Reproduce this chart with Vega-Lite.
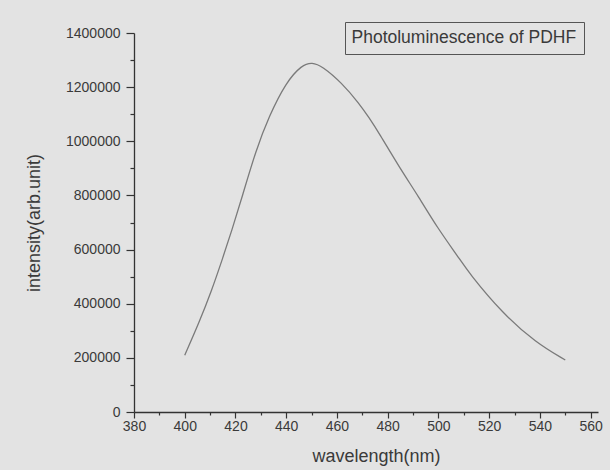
{
  "$schema": "https://vega.github.io/schema/vega-lite/v6.json",
  "width": 464,
  "height": 379,
  "autosize": {"type": "none"},
  "padding": {"left": 134, "top": 33, "right": 12, "bottom": 58},
  "background": "#e3e3e3",
  "data": {
    "values": [
      {"wavelength": 400.0, "intensity": 210000, "series": "Photoluminescence of PDHF"},
      {"wavelength": 405.6, "intensity": 329000, "series": "Photoluminescence of PDHF"},
      {"wavelength": 410.7, "intensity": 451000, "series": "Photoluminescence of PDHF"},
      {"wavelength": 414.7, "intensity": 561000, "series": "Photoluminescence of PDHF"},
      {"wavelength": 418.6, "intensity": 672000, "series": "Photoluminescence of PDHF"},
      {"wavelength": 422.6, "intensity": 794000, "series": "Photoluminescence of PDHF"},
      {"wavelength": 428.1, "intensity": 968000, "series": "Photoluminescence of PDHF"},
      {"wavelength": 433.2, "intensity": 1092000, "series": "Photoluminescence of PDHF"},
      {"wavelength": 439.9, "intensity": 1218000, "series": "Photoluminescence of PDHF"},
      {"wavelength": 446.2, "intensity": 1282000, "series": "Photoluminescence of PDHF"},
      {"wavelength": 450.2, "intensity": 1292000, "series": "Photoluminescence of PDHF"},
      {"wavelength": 454.1, "intensity": 1278000, "series": "Photoluminescence of PDHF"},
      {"wavelength": 462.0, "intensity": 1215000, "series": "Photoluminescence of PDHF"},
      {"wavelength": 468.7, "intensity": 1140000, "series": "Photoluminescence of PDHF"},
      {"wavelength": 472.6, "intensity": 1088000, "series": "Photoluminescence of PDHF"},
      {"wavelength": 476.6, "intensity": 1030000, "series": "Photoluminescence of PDHF"},
      {"wavelength": 484.5, "intensity": 905000, "series": "Photoluminescence of PDHF"},
      {"wavelength": 492.3, "intensity": 794000, "series": "Photoluminescence of PDHF"},
      {"wavelength": 499.4, "intensity": 683000, "series": "Photoluminescence of PDHF"},
      {"wavelength": 508.1, "intensity": 569000, "series": "Photoluminescence of PDHF"},
      {"wavelength": 512.0, "intensity": 514000, "series": "Photoluminescence of PDHF"},
      {"wavelength": 525.1, "intensity": 366000, "series": "Photoluminescence of PDHF"},
      {"wavelength": 538.5, "intensity": 255000, "series": "Photoluminescence of PDHF"},
      {"wavelength": 550.0, "intensity": 192000, "series": "Photoluminescence of PDHF"}
    ]
  },
  "mark": {"type": "line", "interpolate": "basis", "strokeWidth": 1.3},
  "encoding": {
    "x": {
      "field": "wavelength",
      "type": "quantitative",
      "scale": {"domain": [380, 562.9], "nice": false, "zero": false},
      "axis": {
        "title": "wavelength(nm)",
        "values": [380, 390, 400, 410, 420, 430, 440, 450, 460, 470, 480, 490, 500, 510, 520, 530, 540, 550, 560],
        "labelExpr": "datum.value % 20 === 0 ? datum.label : ''",
        "format": "d",
        "labelFlush": false,
        "labelOverlap": false,
        "tickSize": {"condition": {"test": "datum.value % 20 === 0", "value": 6}, "value": 3},
        "labelPadding": 1,
        "titlePadding": 14,
        "titleX": 242
      }
    },
    "y": {
      "field": "intensity",
      "type": "quantitative",
      "scale": {"domain": [0, 1400000], "nice": false},
      "axis": {
        "title": "intensity(arb.unit)",
        "values": [0, 100000, 200000, 300000, 400000, 500000, 600000, 700000, 800000, 900000, 1000000, 1100000, 1200000, 1300000, 1400000],
        "labelExpr": "datum.value % 200000 === 0 ? datum.label : ''",
        "format": "d",
        "labelFlush": false,
        "labelOverlap": false,
        "tickSize": {"condition": {"test": "datum.value % 200000 === 0", "value": 8}, "value": 4},
        "labelPadding": 6,
        "titlePadding": 22
      }
    },
    "color": {
      "field": "series",
      "type": "nominal",
      "scale": {"range": ["#7a7a7a"]},
      "legend": {
        "title": null,
        "orient": "none",
        "legendX": 211,
        "legendY": -11,
        "symbolType": "circle",
        "symbolSize": 0,
        "symbolOpacity": 0,
        "symbolStrokeWidth": 0,
        "labelOffset": -18,
        "labelFontSize": 17.5,
        "labelLimit": 0,
        "labelColor": "#3a3a3a",
        "labelFont": "Liberation Sans",
        "padding": 7,
        "strokeColor": "#555555"
      }
    }
  },
  "config": {
    "view": {"stroke": null},
    "font": "Liberation Sans",
    "axis": {
      "grid": false,
      "domainColor": "#333333",
      "tickColor": "#333333",
      "domainWidth": 1.3,
      "tickWidth": 1.2,
      "labelFontSize": 14,
      "labelColor": "#3a3a3a",
      "titleFontSize": 18,
      "titleFontWeight": "normal",
      "titleColor": "#3a3a3a",
      "labelFont": "Liberation Sans",
      "titleFont": "Liberation Sans"
    }
  }
}
